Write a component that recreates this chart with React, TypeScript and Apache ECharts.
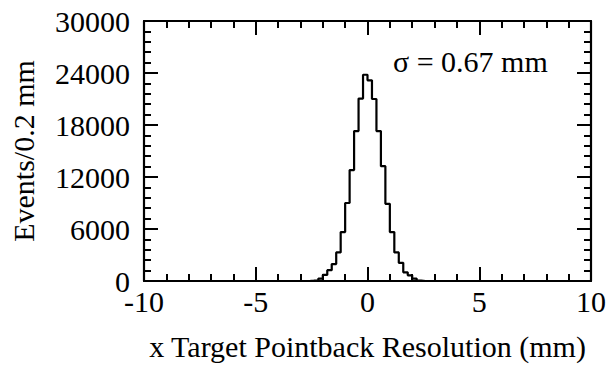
import React, { useEffect, useRef } from "react";
import * as echarts from "echarts";

// Histogram bins (lower edge, mm) and counts per 0.2 mm bin
const binLow = [-2.8, -2.6, -2.4, -2.2, -2.0, -1.8, -1.6, -1.4, -1.2, -1.0, -0.8, -0.6, -0.4, -0.2, 0.0, 0.2, 0.4, 0.6, 0.8, 1.0, 1.2, 1.4, 1.6, 1.8, 2.0, 2.2, 2.4];
const counts = [0, 40, 90, 280, 700, 1250, 1950, 3300, 5650, 9000, 12800, 17300, 21050, 23800, 23150, 21000, 17300, 13250, 8900, 5650, 3300, 2100, 1000, 650, 280, 60, 0];
const binWidth = 0.2;

const xTicks = [-10, -5, 0, 5, 10];
const yTicks = [0, 6000, 12000, 18000, 24000, 30000];
const sigmaLabel = "σ = 0.67 mm";
const xTitle = "x Target Pointback Resolution (mm)";
const yTitle = "Events/0.2 mm";

const FONT = '"Liberation Serif", "Times New Roman", serif';
const FS = 30;

export default function App() {
  const ref = useRef<HTMLDivElement>(null);
  useEffect(() => {
    if (!ref.current) return;
    const chart = echarts.init(ref.current, null, { renderer: "svg" });
    // step 'start' data: first point at left edge of first bin, then right edges with values
    const stepData: number[][] = [[binLow[0], 0]];
    for (let i = 0; i < binLow.length; i++) {
      stepData.push([binLow[i] + binWidth, counts[i]]);
    }
    stepData.push([binLow[binLow.length - 1] + binWidth, 0]);

    const tickCommon = {
      axisLine: { show: true, onZero: false, lineStyle: { color: "#000", width: 2.2 } },
      axisTick: { show: true, inside: true, length: 14, lineStyle: { color: "#000", width: 2 } },
      minorTick: { show: true, splitNumber: 5, length: 7, lineStyle: { color: "#000", width: 2 } },
      splitLine: { show: false },
      minorSplitLine: { show: false },
    };

    chart.setOption({
      animation: false,
      backgroundColor: "#fff",
      textStyle: { fontFamily: FONT },
      grid: { left: 143, right: 20, top: 21, bottom: 83, containLabel: false },
      xAxis: [
        {
          type: "value",
          position: "bottom",
          min: xTicks[0],
          max: xTicks[xTicks.length - 1],
          interval: 5,
          ...tickCommon,
          axisLabel: {
            show: true, color: "#000", fontSize: FS, fontFamily: FONT, margin: 11, lineHeight: 18,
            formatter: (v: number) => String(v),
          },
          name: xTitle,
          nameLocation: "middle",
          nameGap: 50,
          nameTextStyle: { color: "#000", fontSize: FS, fontFamily: FONT },
        },
        {
          type: "value",
          position: "top",
          min: xTicks[0],
          max: xTicks[xTicks.length - 1],
          interval: 5,
          ...tickCommon,
          axisLabel: { show: false },
        },
      ],
      yAxis: [
        {
          type: "value",
          position: "left",
          min: yTicks[0],
          max: yTicks[yTicks.length - 1],
          interval: 6000,
          ...tickCommon,
          axisLabel: {
            show: true, color: "#000", fontSize: FS, fontFamily: FONT, margin: 14, lineHeight: 18,
            formatter: (v: number) => String(v),
          },
          name: yTitle,
          nameLocation: "middle",
          nameRotate: 90,
          nameGap: 106,
          nameTextStyle: { color: "#000", fontSize: FS, fontFamily: FONT },
        },
        {
          type: "value",
          position: "right",
          min: yTicks[0],
          max: yTicks[yTicks.length - 1],
          interval: 6000,
          ...tickCommon,
          axisLabel: { show: false },
        },
      ],
      series: [
        {
          type: "line",
          step: "start",
          data: stepData,
          showSymbol: false,
          symbol: "none",
          lineStyle: { color: "#000", width: 2.2 },
          z: 5,
        },
      ],
      graphic: [
        {
          type: "text",
          left: 393,
          top: 46,
          style: { text: sigmaLabel, fill: "#000", font: `${FS}px ${FONT}` },
        },
      ],
    });
    return () => chart.dispose();
  }, []);
  return (
    <div
      ref={ref}
      style={{ position: "fixed", left: 0, top: 0, width: 611, height: 366, background: "#fff" }}
    />
  );
}
